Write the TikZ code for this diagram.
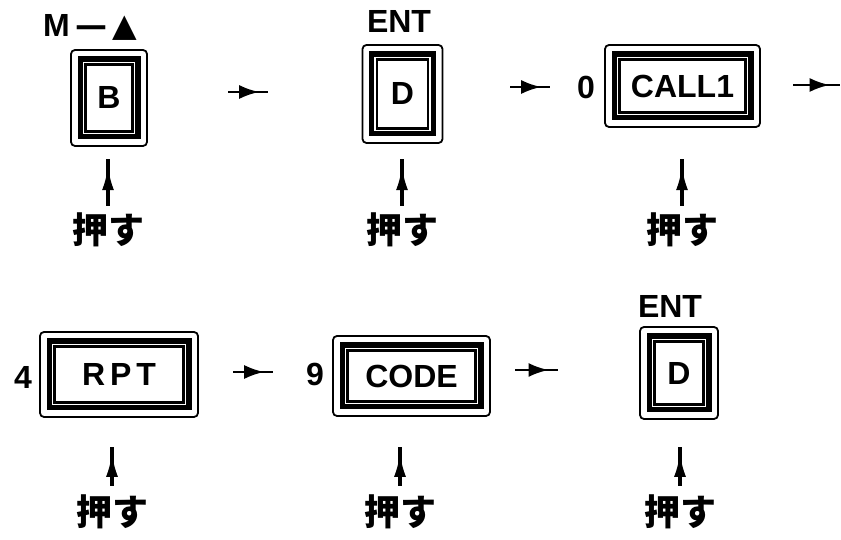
\documentclass[tikz,border=0pt]{standalone}
\usepackage{fontspec}
\setmainfont{Liberation Sans}
\newfontfamily\jp{Noto Sans CJK JP}
\newfontfamily\sym{DejaVu Sans}
\usetikzlibrary{arrows.meta,decorations.markings,fit,backgrounds}
\begin{document}
\begin{tikzpicture}[x=1pt,y=1pt,
 keyface/.style={draw, line width=1.6pt, fill=white, inner sep=0pt, outer sep=0pt, font=\fontsize{32}{32}\selectfont\bfseries},
 keyband/.style={fill=black, inner sep=8.5pt, outer sep=0pt},
 keyline/.style={draw=white, line width=1.4pt, inner sep=2.4pt, outer sep=0pt},
 keyrim/.style={draw, line width=1.8pt, rounded corners=4pt, inner sep=6.5pt, outer sep=0pt},
 lbl/.style={font=\fontsize{32}{32}\selectfont\bfseries, inner sep=0pt},
 push/.style={font=\jp\bfseries\fontsize{36}{36}\selectfont, inner sep=0pt},
 harrow/.style={line width=2.6pt, postaction={decorate}, decoration={markings, mark=at position 0.78 with {\arrow{Latex[length=20pt,width=14pt]}}}},
 uarrow/.style={line width=3.2pt, postaction={decorate}, decoration={markings, mark=at position 0.84 with {\arrow{Latex[length=24pt,width=12pt]}}}},
]
\useasboundingbox (0,0) rectangle (841,540);

% key faces
\node[keyface, minimum width=46pt, minimum height=66pt] (B) at (109,442) {B};
\node[keyface, minimum width=50pt, minimum height=68pt] (D1) at (402.5,446) {D};
\node[keyface, minimum width=125pt, minimum height=52pt] (CALL) at (682.5,454) {CALL1};
\node[keyface, minimum width=128pt, minimum height=55pt] (RPT) at (119,165.5) {R\hspace{5pt}P\hspace{5pt}T};
\node[keyface, minimum width=127pt, minimum height=50pt] (CODE) at (411.5,164) {CODE};
\node[keyface, minimum width=48pt, minimum height=62pt] (D2) at (679,167) {D};

\begin{scope}[on background layer]
 \foreach \k in {B,D1,CALL,RPT,CODE,D2}{
   \node[keyband, fit=(\k)] (\k band) {};
   \node[keyline, fit=(\k)] {};
   \node[keyrim, fit=(\k band)] (\k rim) {};
 }
\end{scope}

% labels
\node[lbl] (M) at (90,513) {M\,{\sym\bfseries —}\,{\sym\bfseries ▲}};
\node[lbl] (E1) at (399,518) {ENT};
\node[lbl] (E2) at (670,234) {ENT};
\node[lbl] (n0) at (586,453) {0};
\node[lbl] (n4) at (23,163) {4};
\node[lbl] (n9) at (315,166) {9};

% push labels
\node[push] (p1) at (108,310) {押す};
\node[push] (p2) at (402,310) {押す};
\node[push] (p3) at (682,310) {押す};
\node[push] (p4) at (112,28) {押す};
\node[push] (p5) at (400,28) {押す};
\node[push] (p6) at (680,28) {押す};

% up arrows
\foreach \p in {p1,p2,p3}{
  \draw[uarrow] ([yshift=7pt]\p.north) -- ++(0,47pt);
}
\foreach \p in {p4,p5,p6}{
  \draw[uarrow] ([yshift=9pt]\p.north) -- ++(0,39pt);
}

% horizontal arrows
\coordinate (h1a) at (228,448); \coordinate (h1b) at (268,448);
\coordinate (h2a) at (510,453); \coordinate (h2b) at (550,453);
\coordinate (h3a) at (793,455); \coordinate (h3b) at (840,455);
\coordinate (h4a) at (233,168); \coordinate (h4b) at (273,168);
\coordinate (h5a) at (515,170); \coordinate (h5b) at (558,170);
\draw[harrow] (h1a) -- (h1b);
\draw[harrow] (h2a) -- (h2b);
\draw[harrow] (h3a) -- (h3b);
\draw[harrow] (h4a) -- (h4b);
\draw[harrow] (h5a) -- (h5b);
\end{tikzpicture}
\end{document}
